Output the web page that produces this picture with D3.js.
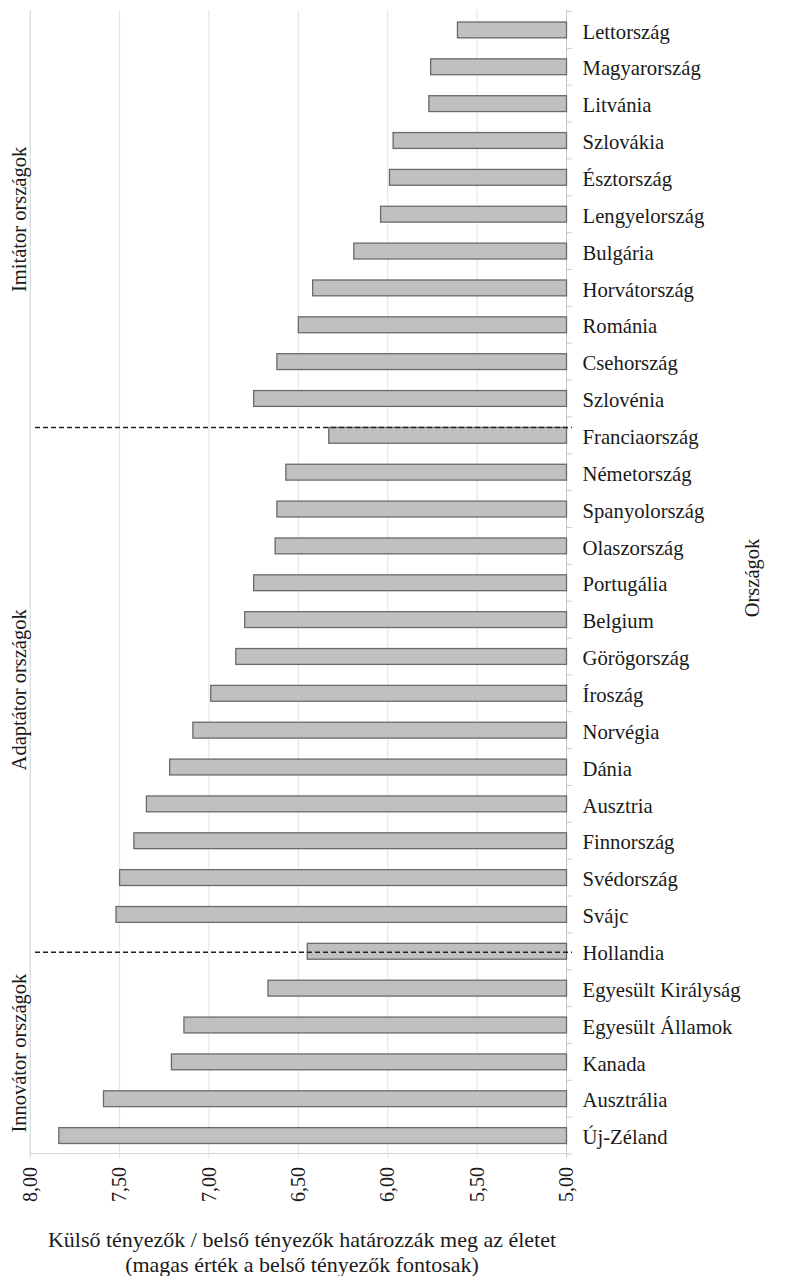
<!DOCTYPE html>
<meta charset="utf-8">
<script src="https://d3js.org/d3.v7.min.js"></script>
<style>
  body { margin: 0; background: #fff; }
  svg text { font-family: "Liberation Serif", "Times New Roman", Tinos, serif; fill: #1a1a1a; }
</style>
<div id="chart"></div>
<script>

var countries = ["Lettország", "Magyarország", "Litvánia", "Szlovákia", "Észtország",
  "Lengyelország", "Bulgária", "Horvátország", "Románia", "Csehország", "Szlovénia",
  "Franciaország", "Németország", "Spanyolország", "Olaszország", "Portugália",
  "Belgium", "Görögország", "Íroszág", "Norvégia", "Dánia", "Ausztria", "Finnország",
  "Svédország", "Svájc", "Hollandia", "Egyesült Királyság", "Egyesült Államok",
  "Kanada", "Ausztrália", "Új-Zéland"];

var values = [5.61, 5.76, 5.77, 5.97, 5.99,
  6.04, 6.19, 6.42, 6.50, 6.62, 6.75,
  6.33, 6.57, 6.62, 6.63, 6.75,
  6.80, 6.85, 6.99, 7.09, 7.22, 7.35, 7.42,
  7.50, 7.52, 6.45, 6.67, 7.14,
  7.21, 7.59, 7.84];

var groupNames = ["Imitátor országok", "Adaptátor országok", "Innovátor országok"];
var groupFirst = ["Lettország", "Franciaország", "Hollandia"];

var xTicks = [8, 7.5, 7, 6.5, 6, 5.5, 5];

var xTitle = ["Külső tényezők / belső tényezők határozzák meg az életet",
  "(magas érték a belső tényezők fontosak)"];
var yTitle = "Országok";

var W = 786, H = 1276;

var svg = d3.select("#chart").append("svg")
  .attr("width", W)
  .attr("height", H)
  .attr("font-family", "Liberation Serif, Times New Roman, serif");

var x = d3.scaleLinear()
  .domain([8, 5])
  .range([30.2, 566.5]);

var y = d3.scaleBand()
  .domain(countries)
  .range([11.5, 1154])
  .paddingInner(0.57)
  .paddingOuter(0.285);

var step = y.step();
var bw = y.bandwidth();
var fmt = d3.formatLocale({decimal: ",", thousands: " ", grouping: [3], currency: ["", ""]}).format(".2f");

// gridlines
svg.append("g").selectAll("line")
  .data(xTicks)
  .enter().append("line")
  .attr("x1", function(d) { return x(d); })
  .attr("x2", function(d) { return x(d); })
  .attr("y1", 10)
  .attr("y2", 1158)
  .attr("stroke", function(d) { return d == 8 ? "#cfcfcf" : "#e2e2e2"; })
  .attr("stroke-width", 1);

// bottom axis line
svg.append("line")
  .attr("x1", x(8)).attr("x2", x(5))
  .attr("y1", 1153.5).attr("y2", 1153.5)
  .attr("stroke", "#d6d6d6");

// right axis line + ticks between bands
svg.append("line")
  .attr("x1", x(5)).attr("x2", x(5))
  .attr("y1", 10).attr("y2", 1158)
  .attr("stroke", "#c8c8c8");

svg.append("g").selectAll("line")
  .data(d3.range(countries.length + 1))
  .enter().append("line")
  .attr("x1", x(5))
  .attr("x2", x(5) + 5)
  .attr("y1", function(i) { return y.range()[0] + i * step; })
  .attr("y2", function(i) { return y.range()[0] + i * step; })
  .attr("stroke", "#c8c8c8");

// bars
svg.append("g").selectAll("rect")
  .data(countries)
  .enter().append("rect")
  .attr("x", function(d, i) { return x(values[i]); })
  .attr("y", function(d) { return y(d); })
  .attr("width", function(d, i) { return x(5) - x(values[i]); })
  .attr("height", bw)
  .attr("fill", "#c0c0c0")
  .attr("stroke", "#6a6a6a")
  .attr("stroke-width", 1.3);

// country labels
svg.append("g").selectAll("text")
  .data(countries)
  .enter().append("text")
  .attr("x", x(5) + 16)
  .attr("y", function(d) { return y(d) + bw / 2; })
  .attr("dy", "0.42em")
  .style("font-size", "20.7px")
  .text(function(d) { return d; });

// group separators (dashed)
var sepY = [y(groupFirst[1]), y(groupFirst[2]) + bw / 2 + 1];
svg.append("g").selectAll("line")
  .data(sepY)
  .enter().append("line")
  .attr("x1", 35)
  .attr("x2", x(5) + 5.5)
  .attr("y1", function(d) { return d; })
  .attr("y2", function(d) { return d; })
  .attr("stroke", "#222")
  .attr("stroke-width", 1.5)
  .attr("stroke-dasharray", "5,3");

// group labels
var bounds = [y.range()[0]].concat(sepY).concat([y.range()[1]]);
svg.append("g").selectAll("text")
  .data(groupNames)
  .enter().append("text")
  .attr("transform", function(d, i) {
    return "translate(18.5," + ((bounds[i] + bounds[i + 1]) / 2) + ") rotate(-90)";
  })
  .attr("text-anchor", "middle")
  .attr("dy", "0.35em")
  .style("font-size", "20.5px")
  .text(function(d) { return d; });

// x tick labels
svg.append("g").selectAll("text")
  .data(xTicks)
  .enter().append("text")
  .attr("transform", function(d) { return "translate(" + x(d) + ",1167) rotate(-90)"; })
  .attr("text-anchor", "end")
  .attr("dy", "0.33em")
  .style("font-size", "20px")
  .text(function(d) { return fmt(d); });

// x axis title
svg.append("g").selectAll("text")
  .data(xTitle)
  .enter().append("text")
  .attr("x", 302)
  .attr("y", function(d, i) { return 1247 + i * 25; })
  .attr("text-anchor", "middle")
  .style("font-size", "22px")
  .text(function(d) { return d; });

// right title
svg.append("text")
  .attr("transform", "translate(752,578) rotate(-90)")
  .attr("text-anchor", "middle")
  .attr("dy", "0.35em")
  .style("font-size", "20.5px")
  .text(yTitle);

</script>
